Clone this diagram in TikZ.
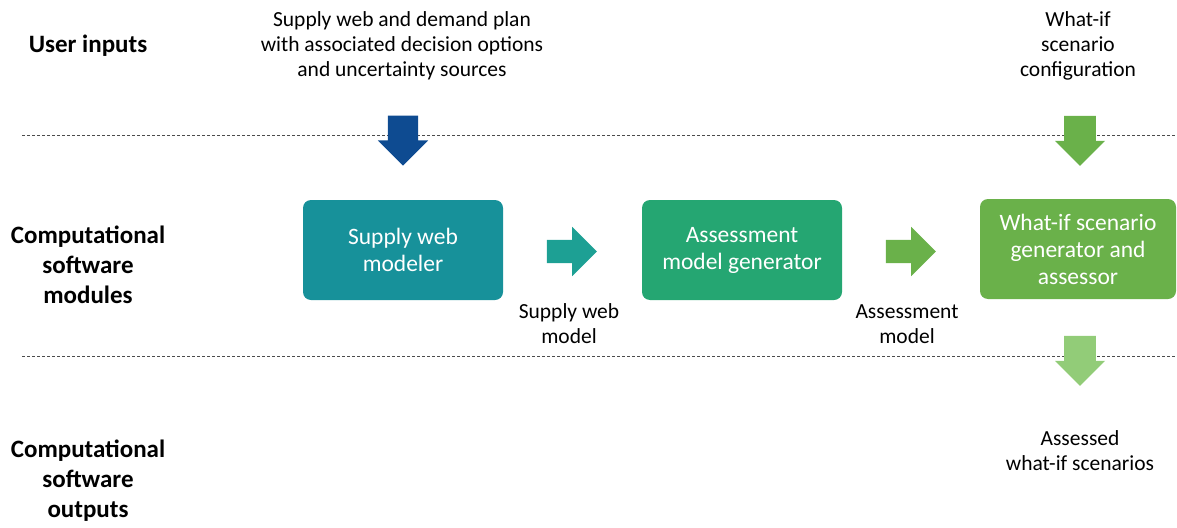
\documentclass[tikz,border=0pt]{standalone}
\usepackage{fontspec}
\setmainfont{Carlito}
\usetikzlibrary{shapes.arrows}
\definecolor{webblue}{RGB}{14,75,145}
\definecolor{modteal}{RGB}{23,145,154}
\definecolor{arrteal}{RGB}{29,160,148}
\definecolor{genteal}{RGB}{37,166,114}
\definecolor{whatgreen}{RGB}{106,177,74}
\definecolor{outgreen}{RGB}{146,204,120}
\tikzset{
  rowlabel/.style={font=\fontsize{25}{30}\selectfont\bfseries, align=center},
  plaintext/.style={font=\fontsize{21.5}{25}\selectfont, align=center},
  modbox/.style={rounded corners=8pt, minimum width=200pt, minimum height=100pt, text=white,
    font=\fontsize{23.5}{27}\selectfont, align=center},
  blockarrow/.style={single arrow, single arrow head extend=#1, minimum height=50pt, inner sep=0pt},
}
\begin{document}
\begin{tikzpicture}[x=1pt, y=-1pt, line join=round]
  \useasboundingbox (0,0) rectangle (1177,527);
  % row separators
  \foreach \y in {135,356}
    \draw[densely dashed, gray!60!black, line width=0.7pt] (22,\y) -- (1177,\y);
  % row labels
  \node[rowlabel] (userin) at (88,46) {User inputs};
  \node[rowlabel] (modules) at (88,265) {Computational\\software\\modules};
  \node[rowlabel] (outputs) at (88,481) {Computational\\software\\outputs};
  % inputs
  \node[plaintext] (webplan) at (402,46) {Supply web and demand plan\\with associated decision options\\and uncertainty sources};
  \node[plaintext] (whatcfg) at (1078,46) {What-if\\scenario\\configuration};
  % modules
  \node[modbox, fill=modteal] (modeler) at (403,250) {Supply web\\modeler};
  \node[modbox, fill=genteal] (generator) at (742,250) {Assessment\\model generator};
  \node[modbox, fill=whatgreen, minimum width=196pt] (assessor) at (1078,249) {What-if scenario\\generator and\\assessor};
  % block arrows
  \node[blockarrow=10pt, fill=webblue, minimum width=50pt, inner ysep=15pt, rotate=-90] (inarr) at (403,133) {};
  \node[blockarrow=9pt, fill=whatgreen, minimum width=50pt, inner ysep=15.5pt, rotate=-90] (cfgarr) at (1080,133) {};
  \node[blockarrow=13pt, fill=arrteal, minimum width=49pt, inner ysep=11.5pt] (webarr) at (566,251.5) {};
  \node[blockarrow=13pt, fill=whatgreen, minimum width=49pt, inner ysep=11.5pt] (genarr) at (905,251.5) {};
  \node[blockarrow=9pt, fill=outgreen, minimum width=50pt, inner ysep=15.5pt, rotate=-90] (outarr) at (1080,353) {};
  % intermediate products
  \node[plaintext] (webmodel) at (569,324) {Supply web\\model};
  \node[plaintext] (assmodel) at (907,324) {Assessment\\model};
  \node[plaintext] (assessed) at (1080,451) {Assessed\\what-if scenarios};
\end{tikzpicture}
\end{document}
